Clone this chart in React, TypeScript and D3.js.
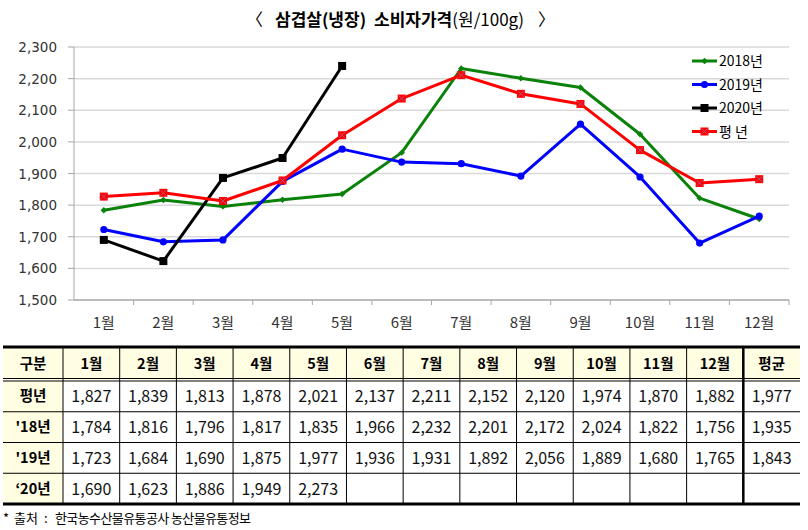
import React from 'react';
import * as d3 from 'd3';

const months = ['1월','2월','3월','4월','5월','6월','7월','8월','9월','10월','11월','12월'];
const yTicks = [1500,1600,1700,1800,1900,2000,2100,2200,2300];

// chart series (as plotted)
const avgSeries = [1827,1839,1813,1878,2021,2137,2211,2152,2120,1974,1870,1882];
const s2018 = [1784,1816,1796,1817,1835,1966,2232,2201,2172,2024,1822,1756];
const s2019 = [1723,1684,1690,1875,1977,1936,1931,1892,2056,1889,1680,1765];
const s2020 = [1690,1623,1886,1949,2240];

// table values
const rowLabels = ['평년', "'18년", "'19년", '‘20년'];
const tAvg = [1827,1839,1813,1878,2021,2137,2211,2152,2120,1974,1870,1882,1977];
const t2018 = [1784,1816,1796,1817,1835,1966,2232,2201,2172,2024,1822,1756,1935];
const t2019 = [1723,1684,1690,1875,1977,1936,1931,1892,2056,1889,1680,1765,1843];
const t2020 = [1690,1623,1886,1949,2273];
const tableCols = [...months, '평균'];

const W = 808, H = 530;
const FONT = '"Noto Sans CJK KR", "Noto Sans", sans-serif';
const NUMFONT = '"DejaVu Sans", sans-serif';

const series = [
  { name: '2018년', data: s2018, color: '#0a820a', marker: 'diamond' },
  { name: '2019년', data: s2019, color: '#0000ff', marker: 'circle' },
  { name: '2020년', data: s2020, color: '#000000', marker: 'square' },
  { name: '평년', data: avgSeries, color: '#ff0000', marker: 'squareX' },
];

function Marker({ type, x, y, color }: { type: string; x: number; y: number; color: string }) {
  if (type === 'diamond') {
    const s = 3.2;
    return <path d={`M${x},${y - s}L${x + s},${y}L${x},${y + s}L${x - s},${y}Z`} fill={color} />;
  }
  if (type === 'circle') return <circle cx={x} cy={y} r={3.6} fill={color} />;
  if (type === 'square') return <rect x={x - 4} y={y - 4} width={8} height={8} fill={color} />;
  return (
    <g>
      <rect x={x - 4} y={y - 4} width={8} height={8} fill={color} />
      <path d={`M${x - 3},${y - 3}L${x + 3},${y + 3}M${x + 3},${y - 3}L${x - 3},${y + 3}`} stroke="#b05080" strokeWidth={1} />
    </g>
  );
}

export default function App() {
  const x = d3.scaleBand<string>().domain(months).range([74, 789]);
  const y = d3.scaleLinear().domain([1500, 2300]).range([300, 47]);
  const cx = (i: number) => (x(months[i]) as number) + x.bandwidth() / 2;
  const line = d3.line<number>().x((_, i) => cx(i)).y(d => y(d));
  const fmt = d3.format(',');

  const colX = d3.scaleBand<string>().domain(tableCols).range([63, 800]);
  const tableTop = 347;
  const headerBottom = 380;
  const rowsTop = 381;
  const rowsBottom = 504;
  const rowY = d3.scaleBand<string>().domain(rowLabels).range([rowsTop, rowsBottom]);
  const tableRows = [tAvg, t2018, t2019, t2020];

  return (
    <svg width={W} height={H} style={{ position: 'absolute', left: 0, top: 0, background: '#fff' }}>
      <rect width={W} height={H} fill="#fff" />
      {/* title */}
      <text x={246} y={26} fontFamily={FONT} fontSize={17} fill="#000">〈</text>
      <text x={275} y={26} fontFamily={FONT} fontSize={17} fill="#000">
        <tspan fontWeight="bold">삼겹살(냉장)</tspan>
        <tspan fontWeight="bold" dx={8}>소비자가격</tspan>
        <tspan>(원/100g)</tspan>
      </text>
      <text x={538} y={26} fontFamily={FONT} fontSize={17} fill="#000">〉</text>

      {/* gridlines */}
      {yTicks.map(t => (
        <g key={t}>
          <line x1={74} x2={789} y1={y(t)} y2={y(t)} stroke={t === 1500 ? '#a6a6a6' : '#d9d9d9'} strokeWidth={1.5} />
          <line x1={68} x2={74} y1={y(t)} y2={y(t)} stroke="#a6a6a6" strokeWidth={1} />
          <text x={57} y={y(t) + 5} textAnchor="end" fontFamily={NUMFONT} fontSize={13.5} fill="#333">{fmt(t)}</text>
        </g>
      ))}
      <line x1={74} x2={74} y1={47} y2={300} stroke="#a6a6a6" strokeWidth={1} />
      {months.map((m, i) => (
        <g key={m}>
          <line x1={(x(m) as number) + x.bandwidth()} x2={(x(m) as number) + x.bandwidth()} y1={300} y2={305} stroke="#a6a6a6" />
          <text x={cx(i)} y={328} textAnchor="middle" fontFamily={FONT} fontSize={15} fill="#333">{m}</text>
        </g>
      ))}

      {/* series */}
      {series.map(s => (
        <g key={s.name}>
          <path d={line(s.data) as string} fill="none" stroke={s.color} strokeWidth={3} strokeLinejoin="round" />
          {s.data.map((v, i) => <Marker key={i} type={s.marker} x={cx(i)} y={y(v)} color={s.color} />)}
        </g>
      ))}

      {/* legend */}
      {series.map((s, i) => {
        const ly = 61 + i * 23.5;
        return (
          <g key={s.name}>
            <line x1={692} x2={717} y1={ly} y2={ly} stroke={s.color} strokeWidth={3} />
            <Marker type={s.marker} x={704.5} y={ly} color={s.color} />
            <text x={719} y={ly + 5} fontFamily={FONT} fontSize={14} fill="#000" letterSpacing={s.name === '평년' ? 3 : 0}>{s.name}</text>
          </g>
        );
      })}

      {/* table */}
      <rect x={3} y={tableTop} width={797} height={headerBottom - tableTop} fill="#fffde2" />
      <rect x={3} y={rowsTop} width={60} height={rowsBottom - rowsTop} fill="#fffde2" />
      <text x={33} y={369} textAnchor="middle" fontFamily={FONT} fontSize={14.5} fontWeight="bold">구분</text>
      {tableCols.map(c => (
        <text key={c} x={(colX(c) as number) + colX.bandwidth() / 2} y={369} textAnchor="middle" fontFamily={FONT} fontSize={14.5} fontWeight="bold">{c}</text>
      ))}
      {rowLabels.map((r, ri) => (
        <g key={r}>
          <text x={33} y={(rowY(r) as number) + rowY.bandwidth() / 2 + 5} textAnchor="middle" fontFamily={FONT} fontSize={14.5} fontWeight="bold">{r}</text>
          {tableRows[ri].map((v, ci) => (
            <text key={ci} x={(colX(tableCols[ci]) as number) + colX.bandwidth() / 2} y={(rowY(r) as number) + rowY.bandwidth() / 2 + 6}
              textAnchor="middle" fontFamily={FONT} fontSize={16} fill="#111">{fmt(v)}</text>
          ))}
          {ri > 0 && <line x1={3} x2={800} y1={rowY(r)} y2={rowY(r)} stroke="#000" strokeWidth={1} />}
        </g>
      ))}
      {/* verticals */}
      {tableCols.map(c => (
        <line key={c} x1={colX(c)} x2={colX(c)} y1={tableTop} y2={rowsBottom} stroke="#000" strokeWidth={c === '평균' ? 2.5 : 1} />
      ))}
      <line x1={3} x2={800} y1={tableTop} y2={tableTop} stroke="#000" strokeWidth={3} />
      <line x1={3} x2={800} y1={378.5} y2={378.5} stroke="#000" strokeWidth={1} />
      <line x1={3} x2={800} y1={381} y2={381} stroke="#000" strokeWidth={1} />
      <line x1={3} x2={800} y1={rowsBottom} y2={rowsBottom} stroke="#000" strokeWidth={3} />

      <text y={523} fontFamily={FONT} fontSize={13} fill="#000">
        <tspan x={3}>*</tspan>
        <tspan x={14}>출처</tspan>
        <tspan x={44}>:</tspan>
        <tspan x={55} letterSpacing={-0.6}>한국농수산물유통공사 농산물유통정보</tspan>
      </text>
    </svg>
  );
}
